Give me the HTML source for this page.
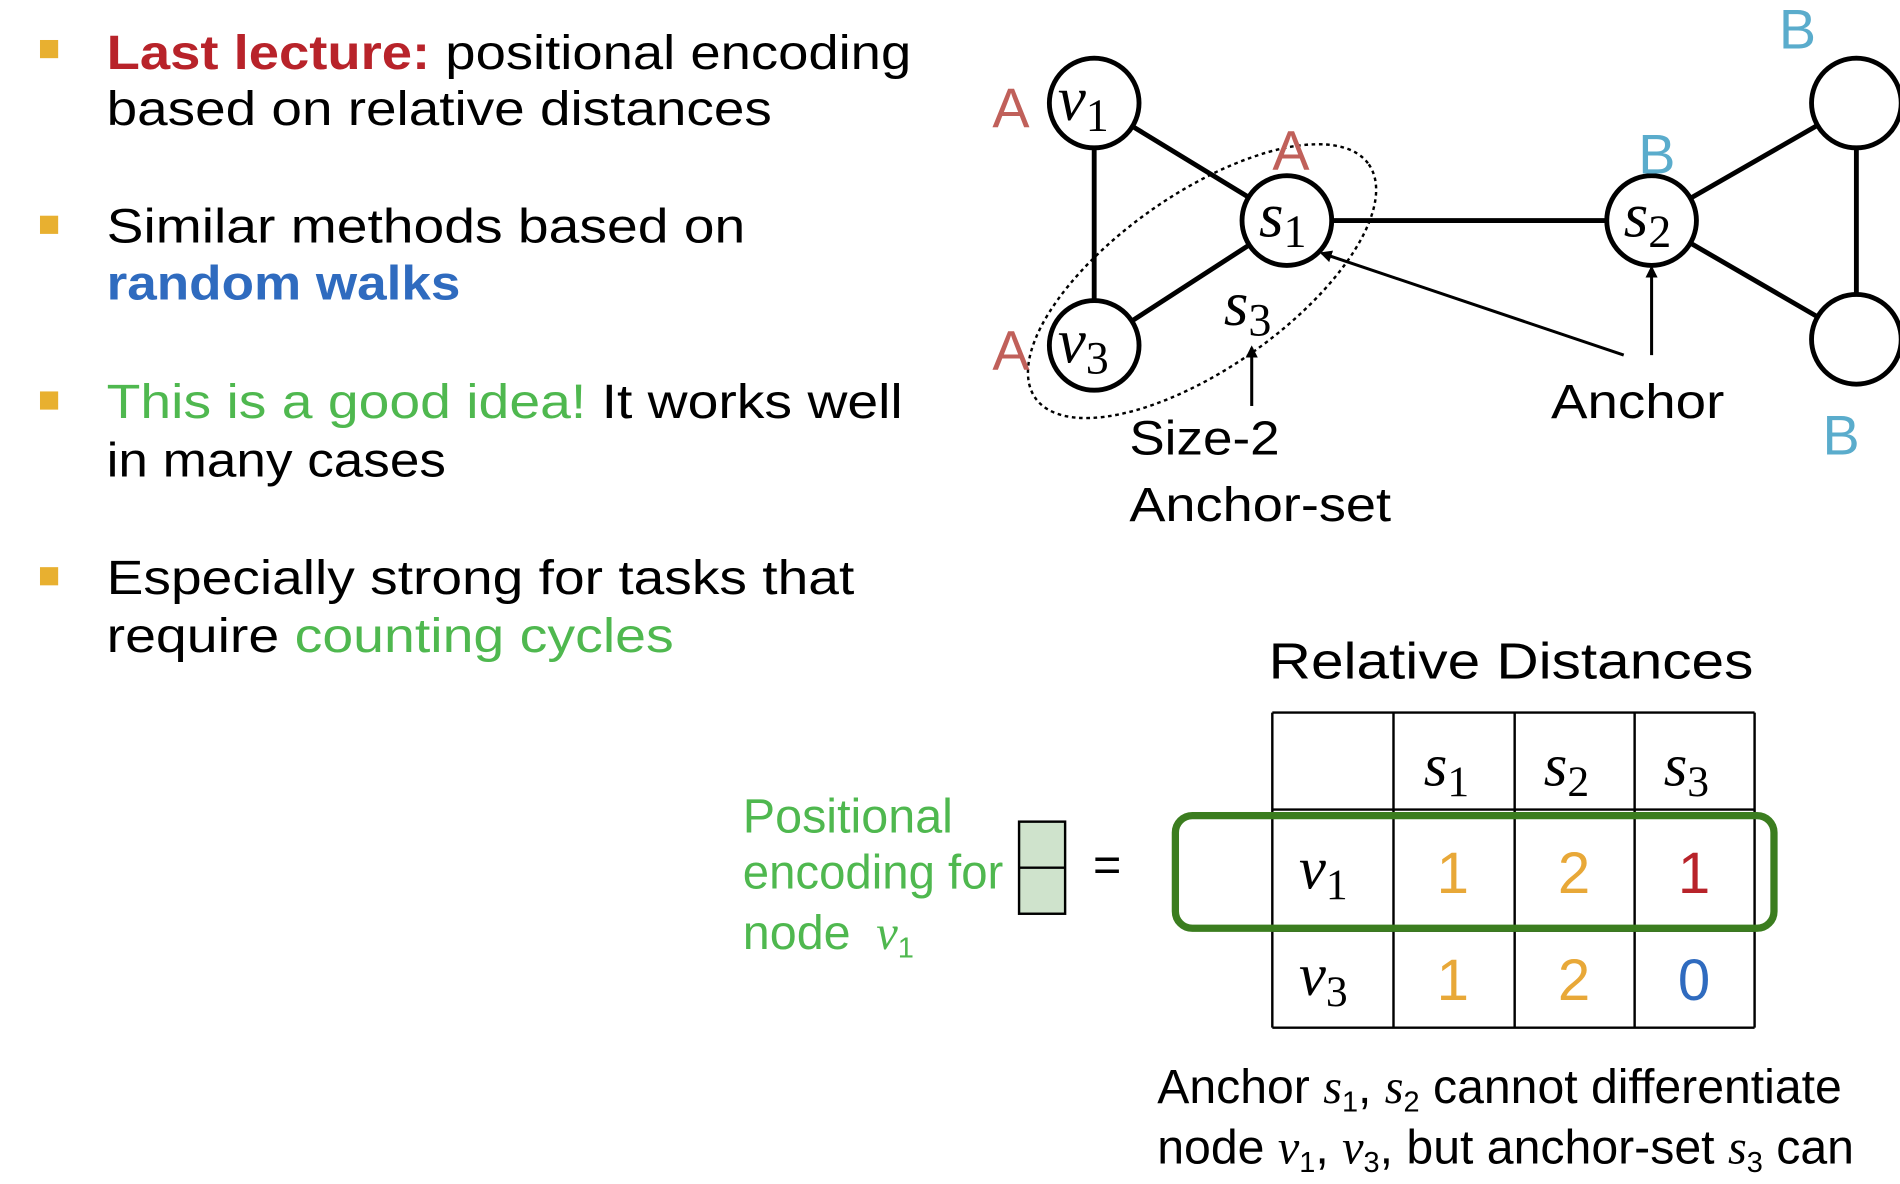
<!DOCTYPE html>
<html><head><meta charset="utf-8"><style>
html,body{margin:0;padding:0;background:#fff;}
svg{display:block;}
.t{font-family:"Liberation Sans",sans-serif;font-size:40px;fill:#000;}
.m{font-family:"Liberation Serif",serif;font-style:italic;}
</style></head><body>
<svg width="1900" height="1184" viewBox="0 0 1568 977" preserveAspectRatio="none" xmlns="http://www.w3.org/2000/svg">
<defs>
<marker id="ar" markerWidth="10" markerHeight="10" refX="8" refY="5" orient="auto" markerUnits="userSpaceOnUse" viewBox="0 0 10 10">
<path d="M0,0 L10,5 L0,10 z" fill="#000"/></marker>
</defs>
<g fill="#e8b030">
<rect x="33" y="33" width="15" height="15"/>
<rect x="33" y="178" width="15" height="15"/>
<rect x="33" y="323" width="15" height="15"/>
<rect x="33" y="468" width="15" height="15"/>
</g>
<g class="t">
<text x="88" y="57" textLength="664" lengthAdjust="spacingAndGlyphs"><tspan fill="#b8232a" font-weight="bold">Last lecture:</tspan> positional encoding</text>
<text x="88" y="103" textLength="549" lengthAdjust="spacingAndGlyphs">based on relative distances</text>
<text x="88" y="200" textLength="527" lengthAdjust="spacingAndGlyphs">Similar methods based on</text>
<text x="88" y="247" textLength="292" lengthAdjust="spacingAndGlyphs" fill="#2f6bbf" font-weight="bold">random walks</text>
<text x="88" y="345" textLength="657" lengthAdjust="spacingAndGlyphs"><tspan fill="#4fb84f">This is a good idea!</tspan> It works well</text>
<text x="88" y="393" textLength="280" lengthAdjust="spacingAndGlyphs">in many cases</text>
<text x="88" y="490" textLength="617" lengthAdjust="spacingAndGlyphs">Especially strong for tasks that</text>
<text x="88" y="538" textLength="468" lengthAdjust="spacingAndGlyphs">require <tspan fill="#4fb84f">counting cycles</tspan></text>
</g>
<g stroke="#000" stroke-width="4">
<line x1="903" y1="85" x2="903" y2="285"/>
<line x1="903" y1="85" x2="1062" y2="182"/>
<line x1="903" y1="285" x2="1062" y2="182"/>
<line x1="1062" y1="182" x2="1363" y2="182"/>
<line x1="1363" y1="182" x2="1532" y2="85"/>
<line x1="1363" y1="182" x2="1532" y2="280"/>
<line x1="1532" y1="85" x2="1532" y2="280"/>
</g>
<ellipse cx="992" cy="232" rx="168" ry="72" transform="rotate(-35 992 232)" fill="none" stroke="#000" stroke-width="2" stroke-dasharray="3 3"/>
<g fill="#fff" stroke="#000" stroke-width="4">
<circle cx="903" cy="85" r="37"/>
<circle cx="1062" cy="182" r="37"/>
<circle cx="903" cy="285" r="37"/>
<circle cx="1363" cy="182" r="37"/>
<circle cx="1532" cy="85" r="37"/>
<circle cx="1532" cy="280" r="37"/>
</g>
<g class="m" font-size="52" fill="#000">
<text x="873" y="99">v<tspan font-size="38" font-style="normal" dy="9">1</tspan></text>
<text x="873" y="299">v<tspan font-size="38" font-style="normal" dy="9">3</tspan></text>
<text x="1039" y="195">s<tspan font-size="38" font-style="normal" dy="9">1</tspan></text>
<text x="1340" y="195">s<tspan font-size="38" font-style="normal" dy="9">2</tspan></text>
<text x="1010" y="268">s<tspan font-size="38" font-style="normal" dy="9">3</tspan></text>
</g>
<g font-family="Liberation Sans,sans-serif" font-size="46">
<text x="819" y="105" fill="#c0605a">A</text>
<text x="1050" y="140" fill="#c0605a">A</text>
<text x="819" y="305" fill="#c0605a">A</text>
<text x="1468" y="40" fill="#5aaccc">B</text>
<text x="1352" y="143" fill="#5aaccc">B</text>
<text x="1504" y="375" fill="#5aaccc">B</text>
</g>
<g stroke="#000" stroke-width="2.5" marker-end="url(#ar)">
<line x1="1033" y1="335" x2="1033" y2="287"/>
<line x1="1340" y1="293" x2="1091" y2="209"/>
<line x1="1363" y1="293" x2="1363" y2="221"/>
</g>
<g class="t" font-size="38">
<text x="932" y="375" textLength="124" lengthAdjust="spacingAndGlyphs">Size-2</text>
<text x="932" y="430" textLength="216" lengthAdjust="spacingAndGlyphs">Anchor-set</text>
<text x="1280" y="345" textLength="143" lengthAdjust="spacingAndGlyphs">Anchor</text>
<text x="1047" y="560" font-size="42" textLength="400" lengthAdjust="spacingAndGlyphs">Relative Distances</text>
</g>
<g stroke="#000" stroke-width="2">
<line x1="1050" y1="588" x2="1448" y2="588"/>
<line x1="1050" y1="668" x2="1448" y2="668"/>
<line x1="1050" y1="768" x2="1448" y2="768"/>
<line x1="1050" y1="848" x2="1448" y2="848"/>
<line x1="1050" y1="588" x2="1050" y2="848"/>
<line x1="1150" y1="588" x2="1150" y2="848"/>
<line x1="1250" y1="588" x2="1250" y2="848"/>
<line x1="1349" y1="588" x2="1349" y2="848"/>
<line x1="1448" y1="588" x2="1448" y2="848"/>
</g>
<rect x="970" y="673" width="494" height="93" rx="14" fill="none" stroke="#3b7d1f" stroke-width="6"/>
<g class="m" font-size="50" fill="#000">
<text x="1175" y="648">s<tspan font-size="36" font-style="normal" dy="9">1</tspan></text>
<text x="1274" y="648">s<tspan font-size="36" font-style="normal" dy="9">2</tspan></text>
<text x="1373" y="648">s<tspan font-size="36" font-style="normal" dy="9">3</tspan></text>
<text x="1072" y="733">v<tspan font-size="36" font-style="normal" dy="9">1</tspan></text>
<text x="1072" y="821">v<tspan font-size="36" font-style="normal" dy="9">3</tspan></text>
</g>
<g font-family="Liberation Sans,sans-serif" font-size="48" text-anchor="middle">
<text x="1199" y="737" fill="#e8a838">1</text>
<text x="1299" y="737" fill="#e8a838">2</text>
<text x="1398" y="737" fill="#b8232a">1</text>
<text x="1199" y="825" fill="#e8a838">1</text>
<text x="1299" y="825" fill="#e8a838">2</text>
<text x="1398" y="825" fill="#2f6bbf">0</text>
</g>
<g class="t" font-size="34" fill="#4fb84f">
<text x="613" y="687" fill="#4fb84f">Positional</text>
<text x="613" y="733" fill="#4fb84f" textLength="215" lengthAdjust="spacingAndGlyphs">encoding for</text>
<text x="613" y="783" fill="#4fb84f">node <tspan class="m" dx="10">v</tspan><tspan font-size="24" dy="7">1</tspan></text>
</g>
<rect x="841" y="678" width="38" height="76" fill="#cfe3cc" stroke="#000" stroke-width="2"/>
<line x1="841" y1="716" x2="879" y2="716" stroke="#000" stroke-width="2"/>
<text x="902" y="727" class="t" font-size="32">=</text>
<g class="t" font-size="34">
<text x="955" y="910" textLength="565" lengthAdjust="spacingAndGlyphs">Anchor <tspan class="m">s</tspan><tspan font-size="24" dy="7">1</tspan><tspan dy="-7">, </tspan><tspan class="m">s</tspan><tspan font-size="24" dy="7">2</tspan><tspan dy="-7"> cannot differentiate</tspan></text>
<text x="955" y="960" textLength="575" lengthAdjust="spacingAndGlyphs">node <tspan class="m">v</tspan><tspan font-size="24" dy="7">1</tspan><tspan dy="-7">, </tspan><tspan class="m">v</tspan><tspan font-size="24" dy="7">3</tspan><tspan dy="-7">, but anchor-set </tspan><tspan class="m">s</tspan><tspan font-size="24" dy="7">3</tspan><tspan dy="-7"> can</tspan></text>
</g>
</svg>
</body></html>
